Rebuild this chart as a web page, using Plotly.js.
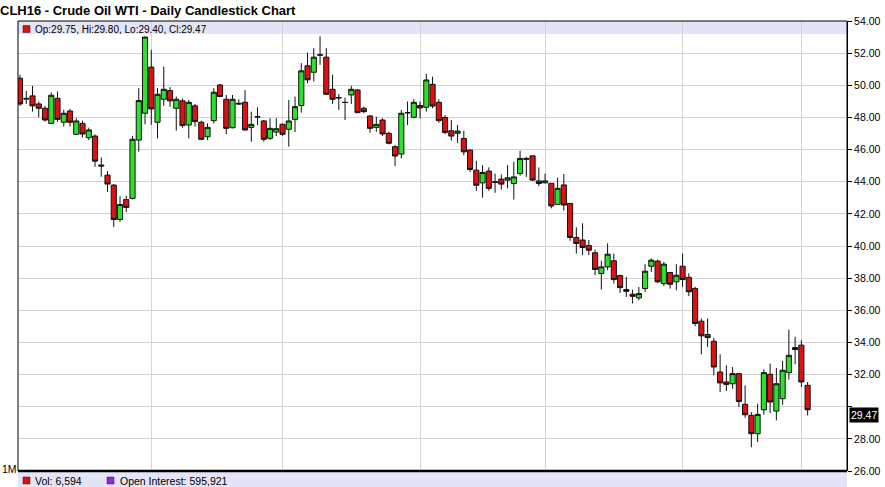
<!DOCTYPE html>
<html><head><meta charset="utf-8">
<script src="https://cdn.plot.ly/plotly-3.0.1.min.js"></script>
<style>html,body{margin:0;padding:0;background:#fff;} #chart{width:885px;height:487px;}</style>
</head><body><div id="chart"></div>
<script>
const chartTitle = "CLH16 - Crude Oil WTI - Daily Candlestick Chart";
const startDate = "2015-08-03";
const holidays = ["2015-09-07","2015-11-26","2015-12-25","2016-01-01","2016-01-18"];

const openPrices = [50.44,49.19,49.34,48.84,48.57,47.63,49.19,47.70,48.40,46.95,47.63,46.74,46.84,45.04,44.41,43.79,41.65,42.89,42.96,46.59,
48.26,51.13,47.70,49.13,49.67,48.57,49.03,47.53,48.72,47.70,46.80,47.80,50.02,49.13,47.36,48.88,48.94,47.38,48.05,47.78,
46.70,47.09,47.57,47.26,47.88,48.74,51.21,50.81,51.90,51.75,49.75,49.23,48.94,49.40,49.71,48.57,48.09,47.38,47.84,47.01,
46.18,45.72,48.30,48.01,48.74,48.63,50.06,48.94,48.00,47.17,47.01,46.69,45.97,44.72,43.93,44.66,44.00,44.16,44.10,43.89,
44.51,45.45,45.61,44.05,43.93,43.90,42.59,43.80,42.65,40.53,40.37,40.03,39.58,38.29,38.70,39.08,38.16,37.29,37.00,36.77,
37.35,38.74,39.06,37.66,38.35,37.77,38.74,38.05,37.36,35.32,34.49,34.07,32.16,31.54,31.43,32.06,30.15,29.46,28.32,29.81,
32.02,29.73,30.50,32.12,33.68,33.83,31.33];
const highPrices = [50.65,49.65,49.96,48.99,48.72,49.55,49.61,48.47,48.53,47.95,47.80,47.36,46.95,45.51,44.66,43.85,43.10,43.12,46.84,49.82,
53.04,52.21,49.82,51.17,49.88,49.30,49.17,49.09,48.84,47.80,47.63,49.82,50.09,49.40,49.40,49.13,49.71,48.36,48.63,47.84,
47.95,47.95,47.63,49.09,49.30,51.38,52.04,52.31,53.04,52.31,50.65,49.46,49.23,49.96,49.75,48.67,48.15,48.05,47.95,47.11,
46.28,48.47,48.99,49.13,48.99,50.71,50.54,49.13,48.15,47.84,47.53,47.17,46.00,45.30,45.03,44.89,44.51,44.45,45.03,45.24,
45.93,45.55,45.61,44.89,44.50,43.90,44.25,44.48,42.65,41.16,41.41,40.37,39.78,39.08,40.16,39.53,38.22,38.08,37.29,37.45,
38.87,39.22,39.16,39.01,38.39,38.87,39.53,38.30,37.46,35.49,35.49,34.28,33.26,32.58,32.47,32.10,31.33,29.67,30.19,32.33,
32.68,32.41,32.85,34.80,34.35,34.14,31.54];
const lowPrices = [48.72,48.84,48.36,48.01,47.74,47.59,47.74,47.43,47.43,46.91,46.76,46.59,44.93,44.31,43.37,41.19,41.50,42.12,42.90,45.87,
47.57,47.53,46.70,48.72,48.67,47.18,47.36,46.70,47.43,46.59,46.59,47.63,49.26,46.95,47.32,48.78,47.18,46.49,47.53,46.49,
46.59,46.84,46.84,46.18,47.09,48.30,50.13,50.23,51.27,49.40,48.84,48.47,47.84,48.84,48.26,48.26,47.05,47.11,46.84,46.32,
44.97,45.45,47.53,47.95,47.95,48.36,48.57,47.67,46.96,46.55,46.42,45.65,44.60,43.43,43.01,43.43,43.31,43.51,43.58,42.89,
44.37,44.30,44.05,43.72,43.89,42.34,42.55,42.20,40.32,39.53,39.43,39.43,38.18,37.29,38.49,37.66,37.08,36.83,36.42,36.62,
37.14,38.39,37.70,37.50,37.35,37.25,37.46,36.88,35.01,33.26,33.72,31.95,30.91,30.98,31.12,29.98,29.31,27.48,27.80,29.50,
29.60,29.15,30.12,31.68,32.64,31.23,29.46];
const closePrices = [48.84,49.15,48.72,48.57,47.84,49.38,47.88,48.26,47.70,47.78,46.97,47.22,45.28,44.98,43.85,41.65,42.58,42.40,46.64,49.05,
53.00,48.53,49.44,49.75,49.03,49.13,47.49,48.94,47.74,46.64,47.38,49.57,49.30,47.32,49.13,48.84,47.22,47.57,48.03,46.64,
47.32,47.30,46.95,47.78,48.67,50.90,50.34,51.75,51.88,49.44,49.13,49.22,48.93,49.75,48.30,48.36,47.32,47.57,46.97,46.39,
45.60,48.26,48.29,48.94,48.59,50.33,48.71,47.80,47.07,46.84,47.15,45.86,44.76,43.78,44.57,43.58,43.96,43.85,44.24,44.30,
45.45,45.40,44.10,43.89,44.05,42.49,43.59,42.55,40.53,40.16,39.91,39.74,38.54,38.70,39.49,37.91,37.41,37.18,36.87,37.04,
38.43,39.12,37.77,38.87,37.62,38.18,37.91,37.15,35.18,34.41,34.30,32.47,31.48,31.39,32.06,30.33,29.50,28.32,29.52,32.12,
30.29,31.43,32.27,33.20,33.56,31.54,29.81];

const priceTicks = [26,28,30,32,34,36,38,40,42,44,46,48,50,52,54];
const quoteLabels = ["Op","Hi","Lo","Cl"];
const quoteValues = [29.75, 29.80, 29.40, 29.47];
const volumeValue = "6,594";
const openInterestValue = "595,921";
const volumeAxisLabel = "1M";

function tradingDays(start, n, skip) {
  const out = [];
  const d = new Date(start + "T00:00:00Z");
  while (out.length < n) {
    const wd = d.getUTCDay();
    const s = d.toISOString().slice(0, 10);
    if (wd !== 0 && wd !== 6 && !skip.includes(s)) out.push(s);
    d.setUTCDate(d.getUTCDate() + 1);
  }
  return out;
}
const dates = tradingDays(startDate, closePrices.length, holidays);
const monthStarts = dates.filter((s, i) => i > 0 && s.slice(0, 7) !== dates[i - 1].slice(0, 7));

const W = 885, H = 487, ML = 18, MR = 38, MT = 21, MB = 16;
const PW = W - ML - MR, PH = H - MT - MB;
const px = x => (x - ML) / PW;
const py = y => (H - MB - y) / PH;

const FONT = "Liberation Sans, Arial, sans-serif";
const lavender = "#e4e4f7";

const trace = {
  type: "candlestick",
  x: dates, open: openPrices, high: highPrices, low: lowPrices, close: closePrices,
  increasing: {fillcolor: "#2ee02e", line: {color: "#111111", width: 1}},
  decreasing: {fillcolor: "#dd1111", line: {color: "#111111", width: 1}},
  whiskerwidth: 0,
  hoverinfo: "skip",
  showlegend: false
};

const headerText = quoteLabels.map((l, i) => l + ":" + quoteValues[i].toFixed(2)).join(", ");
const lastClose = quoteValues[3];

const layout = {
  width: W, height: H,
  margin: {l: ML, r: MR, t: MT, b: MB, pad: 0},
  paper_bgcolor: "#ffffff", plot_bgcolor: "#ffffff",
  boxgap: 0.18, boxgroupgap: 0,
  title: {
    text: "<b>" + chartTitle + "</b>",
    x: 0, xref: "container", xanchor: "left",
    y: 1 - 10 / H, yref: "container", yanchor: "middle",
    font: {family: FONT, size: 13, color: "#000"}, pad: {l: 0, r: 0, t: 0, b: 0}
  },
  xaxis: {
    type: "category", range: [-0.32, 132.3],
    tickvals: monthStarts, showticklabels: false, ticks: "",
    showgrid: true, gridcolor: "#d4d4d4", gridwidth: 1,
    zeroline: false, showline: false, fixedrange: true,
    rangeslider: {visible: false}
  },
  yaxis: {
    side: "right", range: [26, 54],
    tickvals: priceTicks,
    ticktext: priceTicks.map(v => Math.abs(v - lastClose) < 1 ? "" : v.toFixed(2)),
    ticks: "outside", ticklen: 4, tickcolor: "#000", tickwidth: 1,
    showline: true, linecolor: "#000", linewidth: 1,
    showgrid: true, gridcolor: "#d4d4d4", gridwidth: 1,
    zeroline: false, fixedrange: true,
    tickfont: {family: FONT, size: 10.5, color: "#000"}
  },
  shapes: [
    {type: "rect", xref: "paper", yref: "paper", x0: 0, x1: 1, y0: py(34), y1: 1,
     fillcolor: lavender, line: {width: 0}, layer: "between"},
    {type: "rect", xref: "paper", yref: "paper", x0: 0, x1: 1, y0: py(487), y1: 0,
     fillcolor: lavender, line: {width: 0}, layer: "above"},
    {type: "rect", xref: "paper", yref: "paper", x0: 0, x1: 1, y0: 0, y1: 1,
     fillcolor: "rgba(0,0,0,0)", line: {width: 1, color: "#000"}, layer: "above"},
    {type: "line", xref: "paper", yref: "paper", x0: 0, x1: 1, y0: 0, y1: 0,
     line: {width: 2.5, color: "#000"}, layer: "above"},
    {type: "rect", xref: "paper", yref: "paper", x0: px(23), x1: px(30), y0: py(32.5), y1: py(25.5),
     fillcolor: "#dd1111", line: {width: 0.5, color: "#550000"}, layer: "above"},
    {type: "rect", xref: "paper", yref: "paper", x0: px(23), x1: px(30), y0: py(484), y1: py(477),
     fillcolor: "#dd1111", line: {width: 0.5, color: "#550000"}, layer: "above"},
    {type: "rect", xref: "paper", yref: "paper", x0: px(107), x1: px(114), y0: py(484), y1: py(477),
     fillcolor: "#8f2bd8", line: {width: 0.5, color: "#3a0060"}, layer: "above"}
  ],
  annotations: [
    {xref: "paper", yref: "paper", x: px(33), y: py(29), xanchor: "left", yanchor: "middle",
     text: headerText, showarrow: false, font: {family: FONT, size: 10, color: "#000"}},
    {xref: "paper", yref: "paper", x: px(33), y: py(480.5), xanchor: "left", yanchor: "middle",
     text: "Vol: " + volumeValue, showarrow: false, font: {family: FONT, size: 10.5, color: "#000"}},
    {xref: "paper", yref: "paper", x: px(118), y: py(480.5), xanchor: "left", yanchor: "middle",
     text: "Open Interest: " + openInterestValue, showarrow: false, font: {family: FONT, size: 10.5, color: "#000"}},
    {xref: "paper", yref: "paper", x: px(0), y: py(469), xanchor: "left", yanchor: "middle",
     text: volumeAxisLabel, showarrow: false, font: {family: FONT, size: 10.5, color: "#000"}},
    {xref: "paper", yref: "y", x: 1, y: lastClose, xanchor: "left", yanchor: "middle", xshift: 2,
     text: lastClose.toFixed(2), showarrow: false, bgcolor: "#000", borderpad: 1,
     font: {family: FONT, size: 10.5, color: "#fff"}}
  ]
};

Plotly.newPlot("chart", [trace], layout, {displayModeBar: false, staticPlot: true});
</script>
</body></html>
